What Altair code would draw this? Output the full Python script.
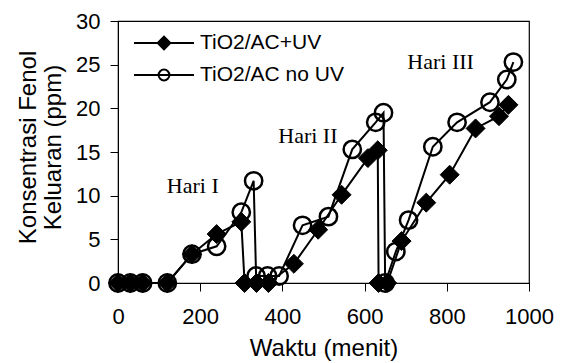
import altair as alt
import pandas as pd

# Phenol outlet concentration over three operating days
series_names = ["TiO2/AC+UV", "TiO2/AC no UV"]

t_uv = [0, 30, 60, 120, 180, 240, 300, 308, 337, 366, 428, 487, 544, 608, 632, 634, 655,
        690, 750, 807, 870, 927, 950]
c_uv = [0, 0, 0, 0, 3.3, 5.6, 7.0, 0, 0, 0, 2.2, 6.1, 10.1, 14.3, 15.2, 0, 0,
        4.8, 9.2, 12.4, 17.7, 19.1, 20.4]

t_nouv = [0, 30, 60, 120, 180, 240, 300, 330, 336, 364, 392, 449, 512, 570, 627, 646, 650,
          676, 707, 766, 825, 905, 946, 962]
c_nouv = [0, 0, 0, 0, 3.3, 4.2, 8.1, 11.7, 0.8, 0.8, 0.8, 6.6, 7.6, 15.3, 18.4, 19.5, 0,
          3.6, 7.2, 15.6, 18.4, 20.7, 23.3, 25.3]

x_domain = [0, 1000]
y_domain = [0, 30]
x_ticks = [0, 200, 400, 600, 800, 1000]
y_ticks = [0, 5, 10, 15, 20, 25, 30]

day_labels = ["Hari I", "Hari II", "Hari III"]
day_label_t = [182, 462, 785]
day_label_c = [10.3, 16.05, 24.45]

df = pd.concat([
    pd.DataFrame({"t": t_uv, "c": c_uv, "series": series_names[0]}),
    pd.DataFrame({"t": t_nouv, "c": c_nouv, "series": series_names[1]}),
], ignore_index=True)
days = pd.DataFrame({"t": day_label_t, "c": day_label_c, "label": day_labels})

# legend glyphs: a line segment through the series marker
legend_paths = [
    "M-1,0L1,0M-0.21,0L0,-0.21L0.21,0L0,0.21Z",
    "M-1,0L1,0M0.18,0A0.18,0.18,0,1,1,-0.18,0A0.18,0.18,0,1,1,0.18,0Z",
]

x_scale = alt.Scale(domain=x_domain, nice=False)
y_scale = alt.Scale(domain=y_domain, nice=False)

x_enc = alt.X("t:Q", scale=x_scale,
              axis=alt.Axis(values=x_ticks, format="d", title="Waktu (menit)",
                            labelPadding=15, labelFlush=False,
                            titleY=72, titleBaseline="alphabetic"))
y_enc = alt.Y("c:Q", scale=y_scale,
              axis=alt.Axis(values=y_ticks, format="d",
                            title=["Konsentrasi Fenol", "Keluaran (ppm)"],
                            labelPadding=10, labelFlush=False,
                            titleAngle=270, titleAlign="center",
                            titleBaseline="alphabetic", titleX=-83, titleY=126,
                            titleLineHeight=25))

base = alt.Chart(df).encode(x=x_enc, y=y_enc)
uv = base.transform_filter(alt.datum.series == series_names[0])
nouv = base.transform_filter(alt.datum.series == series_names[1])

line_uv = uv.mark_line(color="black", strokeWidth=2)
pts_uv = uv.mark_point(shape="diamond", filled=True, fill="black", stroke="black",
                       size=360, strokeWidth=1, opacity=1)
line_nouv = nouv.mark_line(color="black", strokeWidth=2)
pts_nouv = nouv.mark_point(shape="circle", filled=False, stroke="black",
                           size=300, strokeWidth=2.5, opacity=1)

legend_opts = dict(title=None, orient="none", legendX=15, legendY=10,
                   symbolSize=3600, symbolStrokeWidth=2, clipHeight=24,
                   labelFont="Liberation Sans", labelFontSize=21,
                   labelColor="black", labelOffset=5, labelLimit=300,
                   rowPadding=8, padding=0)

legend_layer = base.transform_filter(alt.datum.t < 0).mark_point(
    filled=True, stroke="black", strokeWidth=2, opacity=1
).encode(
    shape=alt.Shape("series:N", scale=alt.Scale(domain=series_names, range=legend_paths),
                    legend=alt.Legend(**legend_opts)),
    fill=alt.Fill("series:N", scale=alt.Scale(domain=series_names,
                                             range=["black", "transparent"]),
                  legend=alt.Legend(**legend_opts)),
)

day_text = alt.Chart(days).mark_text(
    font="Liberation Serif", fontSize=22, align="center", baseline="alphabetic", color="black"
).encode(x="t:Q", y="c:Q", text="label:N")

chart = alt.layer(
    line_uv, pts_uv, line_nouv, pts_nouv, legend_layer, day_text
).properties(
    width=411, height=262,
    autosize=alt.AutoSizeParams(type="none"),
    padding={"left": 118, "top": 21, "right": 40, "bottom": 80},
    background="white",
).configure_view(
    stroke="black", strokeWidth=1.2
).configure_axis(
    grid=False, domainColor="black", domainWidth=1, tickColor="black", tickWidth=1,
    tickSize=8, labelColor="black", labelFont="Liberation Sans", labelFontSize=22,
    titleColor="black", titleFont="Liberation Sans", titleFontSize=24,
    titleFontWeight="normal",
)

chart.save("out.html", embed_options={"renderer": "svg", "actions": False})
